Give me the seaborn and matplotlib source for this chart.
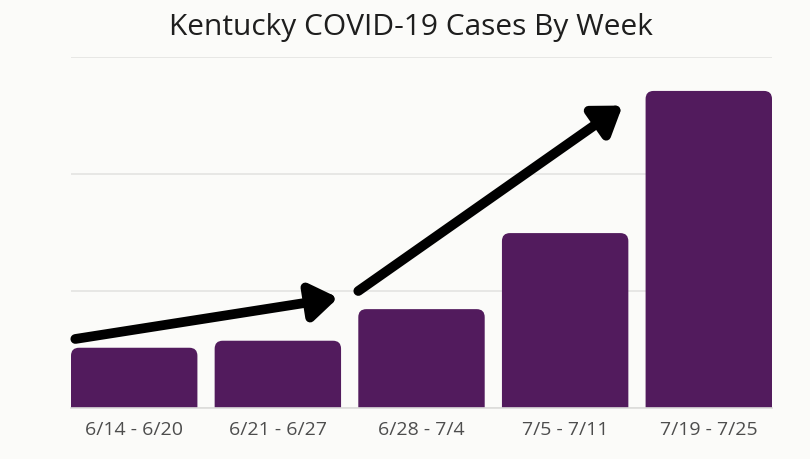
import matplotlib
matplotlib.use("Agg")
import matplotlib.pyplot as plt
from matplotlib.patches import FancyBboxPatch
import seaborn as sns
import pandas as pd

weeks = ["6/14 - 6/20", "6/21 - 6/27", "6/28 - 7/4", "7/5 - 7/11", "7/19 - 7/25"]
cases = [1030, 1150, 1690, 2990, 5420]
grid_ticks = [0, 2000, 4000, 6000]
title = "Kentucky COVID-19 Cases By Week"

BAR = "#521b5d"
BG = "#fbfbf9"

sns.set_theme(style="white")
plt.rcParams["font.family"] = ["Open Sans", "DejaVu Sans"]

df = pd.DataFrame({"week": weeks, "cases": cases})

fig = plt.figure(figsize=(8.1, 4.6), dpi=100, facecolor=BG)
ax = fig.add_axes([71 / 810, 51 / 460, 701 / 810, 351 / 460])
ax.set_facecolor(BG)

sns.barplot(data=df, x="week", y="cases", color=BAR, width=0.88, ax=ax,
            saturation=1, zorder=2)

ax.set_xlim(-0.44, 4.44)
ax.set_ylim(0, 6000)

# rounded top corners
px_x = 701 / 4.88
px_y = 351 / 6000
r_px = 8
rx = r_px / px_x
ry = r_px / px_y
for p in list(ax.patches):
    x0, w, h = p.get_x(), p.get_width(), p.get_height()
    p.set_visible(False)
    fb = FancyBboxPatch((x0, -ry * 2), w, h + ry * 2,
                        boxstyle=f"round,pad=0,rounding_size={rx}",
                        mutation_aspect=ry / rx, facecolor=BAR,
                        edgecolor="none", zorder=2, clip_on=True)
    ax.add_patch(fb)

ax.set_yticks(grid_ticks)
ax.set_yticklabels([])
ax.yaxis.grid(True, color="#e4e4e2", lw=1.2, zorder=0)
ax.tick_params(axis="both", length=0)
ax.tick_params(axis="x", labelsize=14, labelcolor="#4d4d4d", pad=9)
ax.set_xlabel("")
ax.set_ylabel("")
for s in ["top", "right", "left"]:
    ax.spines[s].set_visible(False)
ax.spines["bottom"].set_color("#dcdcda")
ax.spines["bottom"].set_linewidth(1.2)

fig.text(411 / 810, 1 - 28 / 460, title, ha="center", va="center",
         fontsize=21.5, color="#1e1e1e")

# hand-drawn trend arrows
arrow_kw = dict(arrowstyle="-|>,head_length=0.8,head_width=0.55",
                mutation_scale=20, lw=7, color="black",
                capstyle="round", joinstyle="round", shrinkA=0, shrinkB=0)
ax.annotate("", xy=(1.42, 1885), xytext=(-0.41, 1180),
            arrowprops=arrow_kw, annotation_clip=False, zorder=5)
ax.annotate("", xy=(3.40, 5170), xytext=(1.56, 2000),
            arrowprops=arrow_kw, annotation_clip=False, zorder=5)

fig.savefig("out.png", dpi=100, facecolor=BG)
